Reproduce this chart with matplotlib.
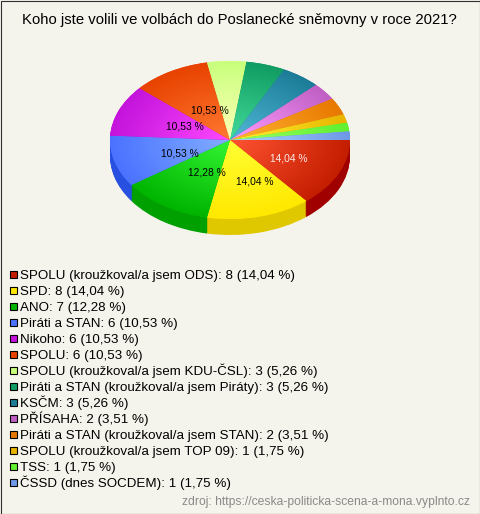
import numpy as np
import matplotlib
matplotlib.use("Agg")
import matplotlib.pyplot as plt
from matplotlib.colors import to_rgb
from matplotlib.patches import Rectangle

title = "Koho jste volili ve volbách do Poslanecké sněmovny v roce 2021?"
source = "zdroj: https://ceska-politicka-scena-a-mona.vyplnto.cz"
names = ["SPOLU (kroužkoval/a jsem ODS)", "SPD", "ANO", "Piráti a STAN", "Nikoho", "SPOLU",
         "SPOLU (kroužkoval/a jsem KDU-ČSL)", "Piráti a STAN (kroužkoval/a jsem Piráty)", "KSČM",
         "PŘÍSAHA", "Piráti a STAN (kroužkoval/a jsem STAN)", "SPOLU (kroužkoval/a jsem TOP 09)",
         "TSS", "ČSSD (dnes SOCDEM)"]
counts = [8, 8, 7, 6, 6, 6, 3, 3, 3, 2, 2, 1, 1, 1]
percents = ["14,04", "14,04", "12,28", "10,53", "10,53", "10,53", "5,26", "5,26", "5,26",
            "3,51", "3,51", "1,75", "1,75", "1,75"]
colors = ["#c41e00", "#ffe800", "#00b400", "#4a72ff", "#c414dc", "#e84200", "#c8ff7c", "#109c62",
          "#1c7c98", "#c060c4", "#e87800", "#e8b400", "#60f030", "#6e98e8"]
sides = ["#a00000", "#e0c800", "#00a000", "#2850e0", "#a000b8", "#c03000", "#a8e060", "#088048",
         "#106078", "#a04aa4", "#c06000", "#c09000", "#48d020", "#5078c8"]

W, H = 480, 514
BG = "#f5f4ec"
CX, CY, RX, RY, DEPTH = 230, 140, 120, 79, 16

plt.rcParams["font.family"] = ["Liberation Sans", "DejaVu Sans"]
fig = plt.figure(figsize=(W / 100, H / 100), dpi=100, facecolor=BG)

ax = fig.add_axes([0, 0, 1, 1])
for d in range(DEPTH, 0, -1):
    ax.pie(counts, colors=sides, startangle=0, counterclock=False, radius=1,
           center=(0, -d / RY), wedgeprops={"linewidth": 0}, frame=True)
wedges, _ = ax.pie(counts, colors=colors, startangle=0, counterclock=False, radius=1,
                   center=(0, 0), wedgeprops={"linewidth": 0}, frame=True)

# radial shading per slice: the base colour at the rim, lit towards the hub
n = 300
g = np.linspace(-1, 1, n)
xx, yy = np.meshgrid(g, g)
r = np.clip(np.hypot(xx, yy), 0, 1)[..., None]
for w, col in zip(wedges, colors):
    rim = np.array(to_rgb(col))
    hub = np.clip(rim * 1.08 + 0.2, 0, 1)
    img = hub * (1 - r) + rim * r
    im = ax.imshow(img, extent=(-1, 1, -1, 1), origin="lower", aspect="auto", zorder=5)
    im.set_clip_path(w)

ax.set_aspect("auto")
ax.set_xlim((0 - CX) / RX, (W - CX) / RX)
ax.set_ylim((CY - H) / RY, CY / RY)
ax.axis("off")

ov = fig.add_axes([0, 0, 1, 1])
ov.set_xlim(0, W)
ov.set_ylim(H, 0)
ov.axis("off")
ov.patch.set_alpha(0)
ov.add_patch(Rectangle((0.5, 0.5), W - 1, H - 1, fc="none", ec="#303030", lw=0.8))

ov.text(239.5, 20, title, ha="center", va="center", fontsize=10.74, color="#000000")

# slice labels (only slices above 10 %)
label_shift = [(0, 0), (9, 0), (12, -3), (12, 2), (15, 3), (12, 7)]
total = sum(counts)
cum = 0
k = 0
for c, p in zip(counts, percents):
    mid = np.deg2rad((cum + c / 2) / total * 360)
    cum += c
    if c / total > 0.10:
        sx, sy = label_shift[k]
        ov.text(CX + RX * 0.54 * np.cos(mid) + sx, CY + RY * 0.54 * np.sin(mid) + sy, f"{p} %",
                ha="center", va="center", fontsize=7.4, zorder=6,
                color="#ffffff" if k == 0 else "#000000", alpha=0.9 if k == 0 else 1)
        k += 1

# legend
for i, (nm, c, p, col) in enumerate(zip(names, counts, percents, colors)):
    y = 274 + i * 16
    ov.add_patch(Rectangle((9.5, y - 3.5), 7, 7, fc=col, ec="#000000", lw=0.8))
    ov.text(20, y + 4.5, f"{nm}: {c} ({p} %)", ha="left", va="baseline", fontsize=9.6, color="#000000")

ov.text(470, 502, source, ha="right", va="center", fontsize=8.7, color="#8a8a8a")

fig.savefig("out.png", dpi=100, facecolor=BG)
